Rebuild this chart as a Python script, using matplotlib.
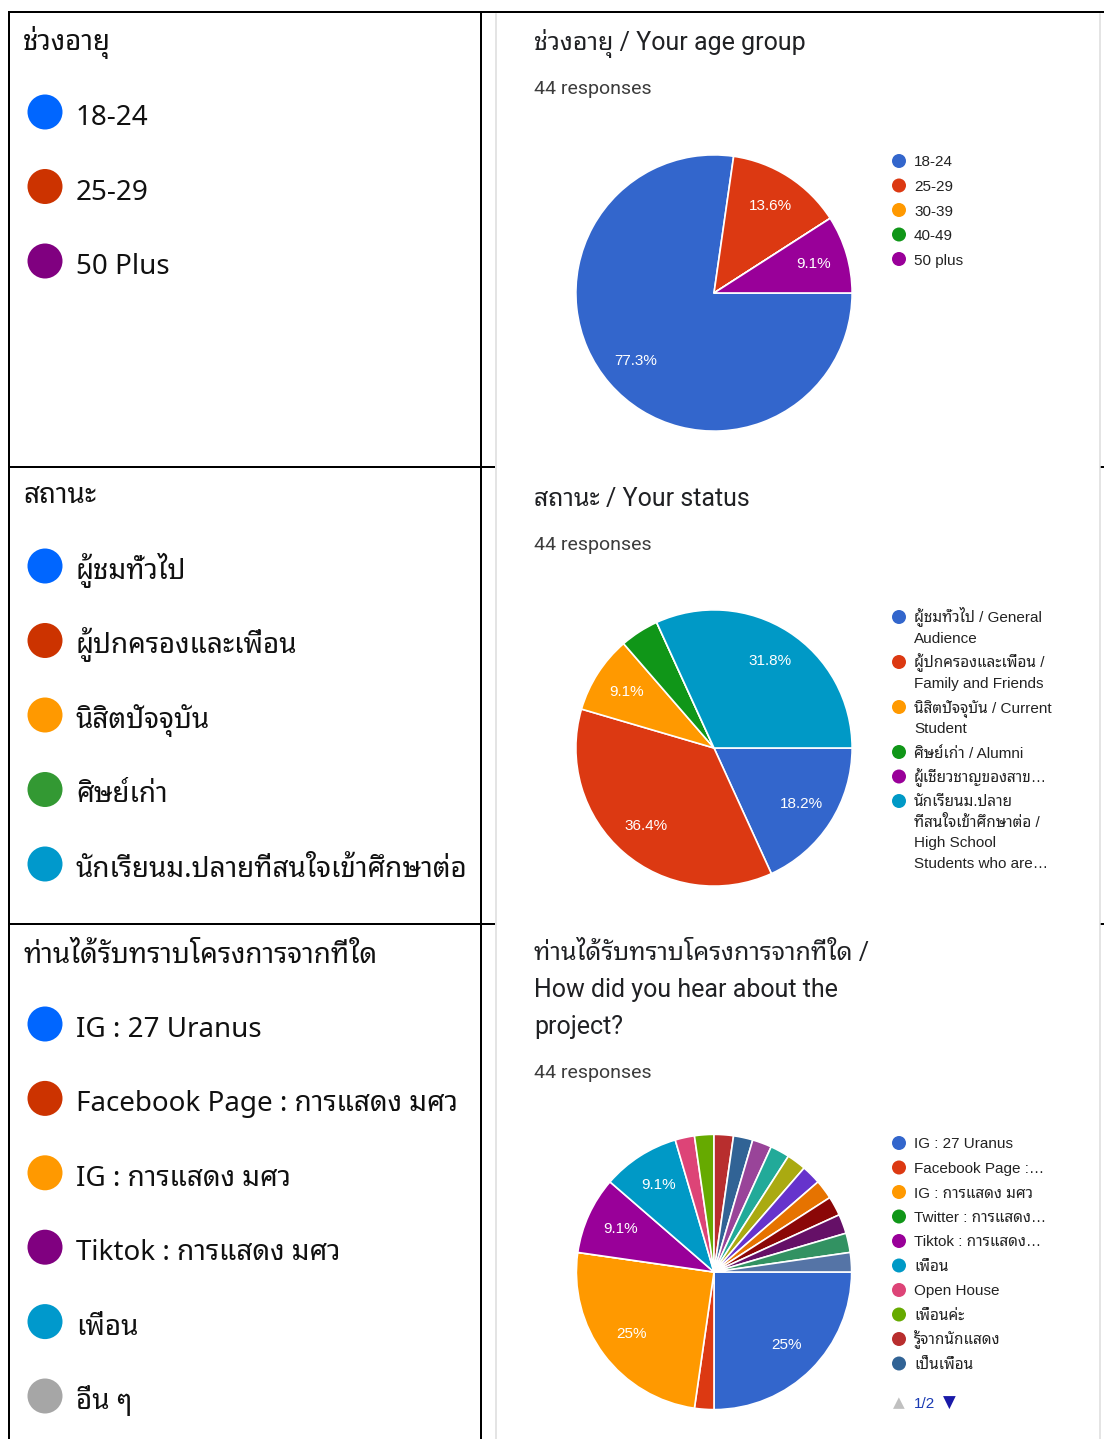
import matplotlib
matplotlib.use("Agg")
import matplotlib.pyplot as plt
from matplotlib.patches import Circle

W, H = 1104, 1439

# fonts: Thai falls through to the looped Noto face
LEFT_FONT = ["Noto Sans Thai Looped", "DejaVu Sans"]
TITLE_FONT = ["Roboto", "Noto Sans Thai Looped", "DejaVu Sans"]
CHART_FONT = ["Liberation Sans", "Noto Sans Thai Looped", "DejaVu Sans"]

# --- summary table (left column) ---
age_summary = ["18-24", "25-29", "50 Plus"]
age_summary_colors = ["#0066ff", "#cc3300", "#800080"]

status_summary = ["ผู้ชมทั่วไป", "ผู้ปกครองและเพื่อน", "นิสิตปัจจุบัน", "ศิษย์เก่า",
                  "นักเรียนม.ปลายที่สนใจเข้าศึกษาต่อ"]
status_summary_colors = ["#0066ff", "#cc3300", "#ff9900", "#339933", "#0099cc"]

source_summary = ["IG : 27 Uranus", "Facebook Page : การแสดง มศว", "IG : การแสดง มศว",
                  "Tiktok : การแสดง มศว", "เพื่อน", "อื่น ๆ"]
source_summary_colors = ["#0066ff", "#cc3300", "#ff9900", "#800080", "#0099cc", "#a6a6a6"]

# --- form responses (right column), 44 responses each ---
age_labels = ["18-24", "25-29", "30-39", "40-49", "50 plus"]
age_counts = [34, 6, 0, 0, 4]

status_labels = ["ผู้ชมทั่วไป / General\nAudience",
                 "ผู้ปกครองและเพื่อน /\nFamily and Friends",
                 "นิสิตปัจจุบัน / Current\nStudent",
                 "ศิษย์เก่า / Alumni",
                 "ผู้เชี่ยวชาญของสาข…",
                 "นักเรียนม.ปลาย\nที่สนใจเข้าศึกษาต่อ /\nHigh School\nStudents who are…"]
status_counts = [8, 16, 4, 2, 0, 14]

source_labels = ["IG : 27 Uranus", "Facebook Page :…", "IG : การแสดง มศว",
                 "Twitter : การแสดง…", "Tiktok : การแสดง…", "เพื่อน", "Open House",
                 "เพื่อนค่ะ", "รู้จากนักแสดง", "เป็นเพื่อน"]
source_counts = [11, 1, 11, 0, 4, 4, 1, 1, 1, 1]
# answers listed on the second legend page
source_more_counts = [1, 1, 1, 1, 1, 1, 1, 1, 1]

google_colors = ["#3366cc", "#dc3912", "#ff9900", "#109618", "#990099", "#0099c6",
                 "#dd4477", "#66aa00", "#b82e2e", "#316395", "#994499", "#22aa99",
                 "#aaaa11", "#6633cc", "#e67300", "#8b0707", "#651067", "#329262",
                 "#5574a6", "#3b3eac"]

fig = plt.figure(figsize=(W / 100, H / 100), dpi=100)
fig.patch.set_facecolor("white")

# pixel-space canvas for borders, markers and text
bg = fig.add_axes([0, 0, 1, 1])
bg.set_xlim(0, W)
bg.set_ylim(H, 0)
bg.axis("off")

PX = 0.72  # one pixel in points

# table borders
blk = dict(color="black", lw=2 * PX, solid_capstyle="butt")
bg.plot([9, 9], [11, H], **blk)
bg.plot([8, W], [12, 12], **blk)
bg.plot([481, 481], [12, H], **blk)
for y in (467, 924):
    bg.plot([9, 495], [y, y], **blk)
    bg.plot([1100, W], [y, y], **blk)
# edges of the form screenshot
for x in (495.5, 1100):
    bg.plot([x, x], [14, H], color="#dcdcdc", lw=1.5 * PX)


def summary_cell(title, title_y, labels, colors, first_y, step):
    bg.text(23, title_y, title, fontsize=20, family=LEFT_FONT, color="#111111",
            va="baseline")
    for i, (lab, col) in enumerate(zip(labels, colors)):
        y = first_y + i * step
        bg.add_patch(Circle((45, y), 17.5, color=col, lw=0))
        bg.text(76, y + 13, lab, fontsize=20, family=LEFT_FONT, color="#111111",
                va="baseline")


summary_cell("ช่วงอายุ", 50, age_summary, age_summary_colors, 112, 74.5)
summary_cell("สถานะ", 503, status_summary, status_summary_colors, 566, 74.5)
summary_cell("ท่านได้รับทราบโครงการจากที่ใด", 963, source_summary,
             source_summary_colors, 1024, 74.4)


def pct_label(p):
    if p < 5:
        return ""
    return f"{p:.1f}%".replace(".0%", "%")


def form_chart(title_lines, title_y, cx, cy, r, counts, legend, legend_y):
    for k, line in enumerate(title_lines):
        bg.text(534, title_y + k * 37, line, fontsize=18, family=TITLE_FONT,
                color="#202124", va="baseline")
    resp_y = title_y + (len(title_lines) - 1) * 37 + 44
    bg.text(534, resp_y, f"{sum(counts)} responses", fontsize=14, family=TITLE_FONT,
            color="#3c3c3c", va="baseline")

    ax = fig.add_axes([(cx - r) / W, 1 - (cy + r) / H, 2 * r / W, 2 * r / H])
    ax.pie(counts, colors=google_colors[:len(counts)], startangle=0, counterclock=False,
           autopct=pct_label, pctdistance=0.75,
           wedgeprops=dict(edgecolor="white", linewidth=1.2),
           textprops=dict(color="white", fontsize=11, family=CHART_FONT))
    ax.set_xlim(-1.01, 1.01)
    ax.set_ylim(-1.01, 1.01)
    ax.axis("off")

    y = legend_y
    for i, lab in enumerate(legend):
        bg.add_patch(Circle((899, y), 7, color=google_colors[i], lw=0))
        lines = lab.split("\n")
        for k, line in enumerate(lines):
            bg.text(914, y + 5.5 + k * 20.5, line, fontsize=11, family=CHART_FONT,
                    color="#222222", va="baseline")
        y += len(lines) * 20.5 + 4


form_chart(["ช่วงอายุ / Your age group"], 50, 714, 293, 139.5,
           age_counts, age_labels, 161)
form_chart(["สถานะ / Your status"], 506, 714, 748, 139.5,
           status_counts, status_labels, 617)
form_chart(["ท่านได้รับทราบโครงการจากที่ใด /", "How did you hear about the", "project?"],
           960, 714, 1272, 139, source_counts + source_more_counts, source_labels, 1143)

# legend pager
bg.text(899, 1403, "▲", fontsize=11, family="DejaVu Sans", color="#c0c0c0",
        ha="center", va="center")
bg.text(914, 1408, "1/2", fontsize=11, family=CHART_FONT, color="#1a3bb3",
        va="baseline")
bg.text(949, 1403, "▼", fontsize=12, family="DejaVu Sans", color="#1a1aa8",
        ha="center", va="center")

fig.savefig("out.png", dpi=100, facecolor="white")
